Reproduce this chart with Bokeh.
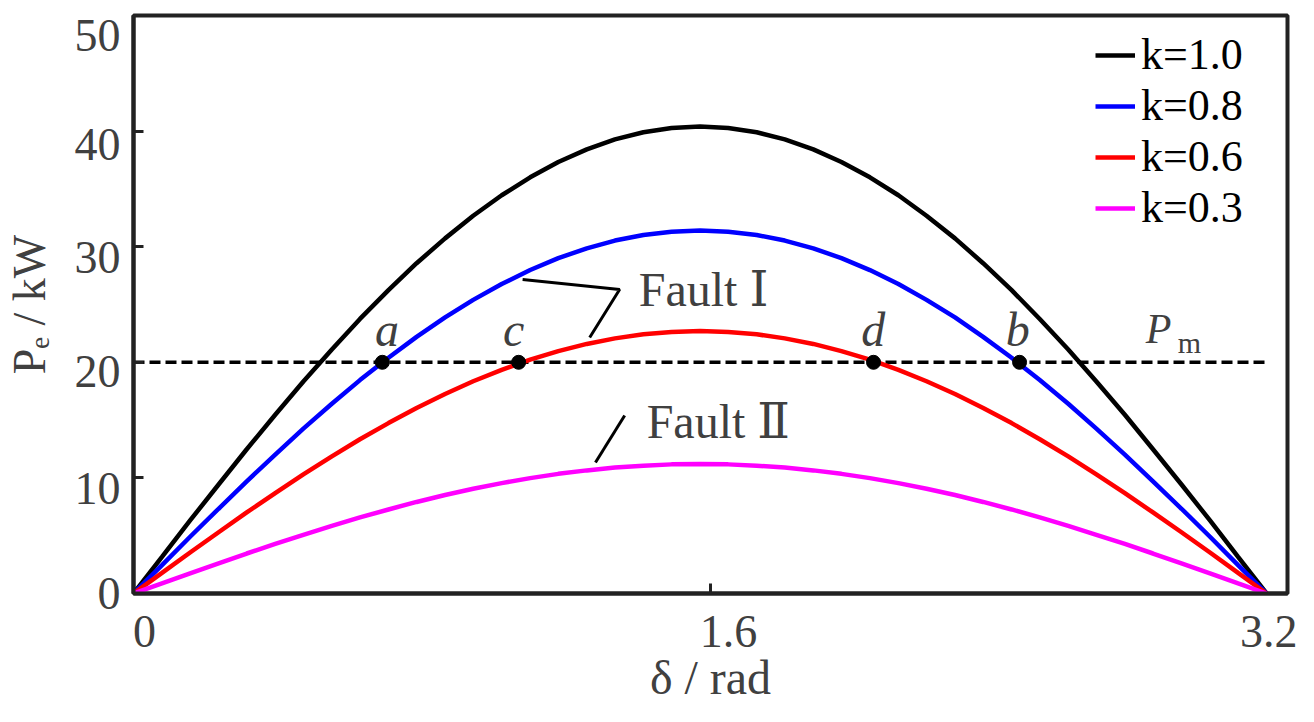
from bokeh.plotting import figure
from bokeh.models import Range1d, Label, Legend, LegendItem, FixedTicker
from bokeh.embed import file_html
from bokeh.resources import INLINE

# ---- data ----
delta = [0.000, 0.079, 0.157, 0.236, 0.314, 0.393, 0.471, 0.550, 0.628, 0.707,
         0.785, 0.864, 0.942, 1.021, 1.100, 1.178, 1.257, 1.335, 1.414, 1.492,
         1.571, 1.649, 1.728, 1.806, 1.885, 1.963, 2.042, 2.121, 2.199, 2.278,
         2.356, 2.435, 2.513, 2.592, 2.670, 2.749, 2.827, 2.906, 2.985, 3.063, 3.142]
p_k10 = [0, 3.17, 6.32, 9.43, 12.48, 15.46, 18.34, 21.11, 23.75, 26.24, 28.57, 30.72,
         32.68, 34.45, 36.00, 37.33, 38.42, 39.28, 39.90, 40.27, 40.40, 40.27, 39.90,
         39.28, 38.42, 37.33, 36.00, 34.45, 32.68, 30.72, 28.57, 26.24, 23.75, 21.11,
         18.34, 15.46, 12.48, 9.43, 6.32, 3.17, 0]
p_k08 = [0, 2.46, 4.91, 7.33, 9.70, 12.02, 14.26, 16.41, 18.46, 20.39, 22.20, 23.88,
         25.40, 26.77, 27.98, 29.01, 29.86, 30.53, 31.01, 31.30, 31.40, 31.30, 31.01,
         30.53, 29.86, 29.01, 27.98, 26.77, 25.40, 23.88, 22.20, 20.39, 18.46, 16.41,
         14.26, 12.02, 9.70, 7.33, 4.91, 2.46, 0]
p_k06 = [0, 1.78, 3.55, 5.30, 7.01, 8.69, 10.31, 11.86, 13.34, 14.74, 16.05, 17.26,
         18.36, 19.35, 20.23, 20.97, 21.59, 22.07, 22.42, 22.63, 22.70, 22.63, 22.42,
         22.07, 21.59, 20.97, 20.23, 19.35, 18.36, 17.26, 16.05, 14.74, 13.34, 11.86,
         10.31, 8.69, 7.01, 5.30, 3.55, 1.78, 0]
p_k03 = [0, 0.88, 1.75, 2.61, 3.46, 4.29, 5.08, 5.85, 6.58, 7.27, 7.92, 8.52, 9.06,
         9.55, 9.98, 10.35, 10.65, 10.89, 11.06, 11.17, 11.20, 11.17, 11.06, 10.89,
         10.65, 10.35, 9.98, 9.55, 9.06, 8.52, 7.92, 7.27, 6.58, 5.85, 5.08, 4.29,
         3.46, 2.61, 1.75, 0.88, 0]
series_labels = ["k=1.0", "k=0.8", "k=0.6", "k=0.3"]
series_colors = ["#000000", "#0000ff", "#ff0000", "#ff00ff"]

pm_value = 20
pm_x = [0, 3.142]
point_names = ["a", "c", "d", "b"]
point_delta = [0.690, 1.068, 2.052, 2.457]
point_p = [20, 20, 20, 20]

x_ticks = [0, 1.6, 3.2]
x_tick_labels = ["0", "1.6", "3.2"]
y_ticks = [0, 10, 20, 30, 40, 50]
y_tick_labels = ["0", "10", "20", "30", "40", "50"]
x_title = "δ / rad"
y_title = "Pₑ / kW"

# ---- layout of annotations (data units) ----
# the reference prints its tick labels slightly shifted from the tick marks
x_label_pos = [0.0305, 1.6498, 3.148]
y_label_pos = [0.0, 9.08, 19.20, 29.07, 38.84, 48.27]
letter_x = [0.703, 1.054, 2.051, 2.452]
letter_y = 22.86
fault1_x = [1.079, 1.348, 1.265]
fault1_y = [27.16, 26.30, 22.15]
fault2_x = [1.362, 1.281]
fault2_y = [15.40, 11.33]

SERIF = "Liberation Serif"
SERIF_FB = "Liberation Serif, DejaVu Serif"
GRAY = "#404040"

p = figure(width=1298, height=706, output_backend="svg", toolbar_location=None,
           x_range=Range1d(0, 3.2), y_range=Range1d(0, 50))
p.min_border_left = 131
p.min_border_right = 11
p.min_border_top = 15
p.min_border_bottom = 113
p.xgrid.visible = False
p.ygrid.visible = False
p.outline_line_color = "#222222"
p.outline_line_width = 4
p.outline_line_alpha = 1
p.background_fill_color = "white"
p.border_fill_color = "white"

for ax in (p.xaxis[0], p.yaxis[0]):
    ax.axis_line_color = "#222222"
    ax.axis_line_width = 4
    ax.major_tick_line_color = None
    ax.major_tick_in = 0
    ax.major_tick_out = 0
    ax.minor_tick_in = 10
    ax.minor_tick_out = 0
    ax.minor_tick_line_width = 3
    ax.minor_tick_line_color = "#222222"
    ax.major_label_text_font = SERIF
    ax.major_label_text_font_size = "46px"
    ax.major_label_text_color = GRAY

# tick marks at the true values (minor ticks), labels where the reference prints them
p.xaxis.ticker = FixedTicker(ticks=x_label_pos, minor_ticks=x_ticks)
p.yaxis.ticker = FixedTicker(ticks=y_label_pos, minor_ticks=y_ticks)
p.xaxis.major_label_overrides = {pos: t for pos, t in zip(x_label_pos, x_tick_labels)}
p.yaxis.major_label_overrides = {pos: t for pos, t in zip(y_label_pos, y_tick_labels)}
p.xaxis.major_label_standoff = 22
p.yaxis.major_label_standoff = 13

p.xaxis.axis_label = x_title
p.yaxis.axis_label = y_title
p.xaxis.axis_label_text_font = SERIF
p.yaxis.axis_label_text_font = SERIF
p.xaxis.axis_label_text_font_style = "normal"
p.yaxis.axis_label_text_font_style = "normal"
p.xaxis.axis_label_text_color = GRAY
p.yaxis.axis_label_text_color = GRAY
p.xaxis.axis_label_text_font_size = "48px"
p.yaxis.axis_label_text_font_size = "46px"
p.xaxis.axis_label_standoff = 1
p.yaxis.axis_label_standoff = 17

# P_m dashed line
p.line(pm_x, [pm_value] * len(pm_x), line_color="black", line_width=3.5,
       line_dash="11 5")

renderers = []
for ys, c in zip([p_k10, p_k08, p_k06, p_k03], series_colors):
    r = p.line(delta, ys, line_color=c, line_width=4.5)
    renderers.append(r)

p.scatter(point_delta, point_p, size=14, color="black")

# leader lines
p.line(fault1_x, fault1_y, line_color="black", line_width=3)
p.line(fault2_x, fault2_y, line_color="black", line_width=3)


def lab(x, y, t, size="46px", style="normal", color=GRAY, align="left", font=SERIF):
    p.add_layout(Label(x=x, y=y, text=t, text_font=font, text_font_size=size,
                       text_font_style=style, text_color=color,
                       text_align=align, text_baseline="middle"))


for t, x in zip(point_names, letter_x):
    lab(x, letter_y, t, size="48px", style="italic", align="center")

lab(1.401, 26.32, "Fault Ⅰ", size="48px", font=SERIF_FB)
lab(1.423, 14.90, "Fault Ⅱ", size="48px", font=SERIF_FB)

# P_m label
lab(2.807, 22.86, "P", size="42px", style="italic")
lab(2.896, 21.73, "m", size="30px")

legend = Legend(items=[LegendItem(label=l, renderers=[r])
                       for l, r in zip(series_labels, renderers)],
                location=(962, 360), padding=0, margin=0, spacing=0,
                glyph_width=40, glyph_height=50, label_height=50,
                label_standoff=6, label_text_font=SERIF,
                label_text_font_size="44px", label_text_color="black",
                border_line_alpha=0, background_fill_alpha=0)
p.add_layout(legend, "center")

open("out.html", "w").write(file_html(p, INLINE))
